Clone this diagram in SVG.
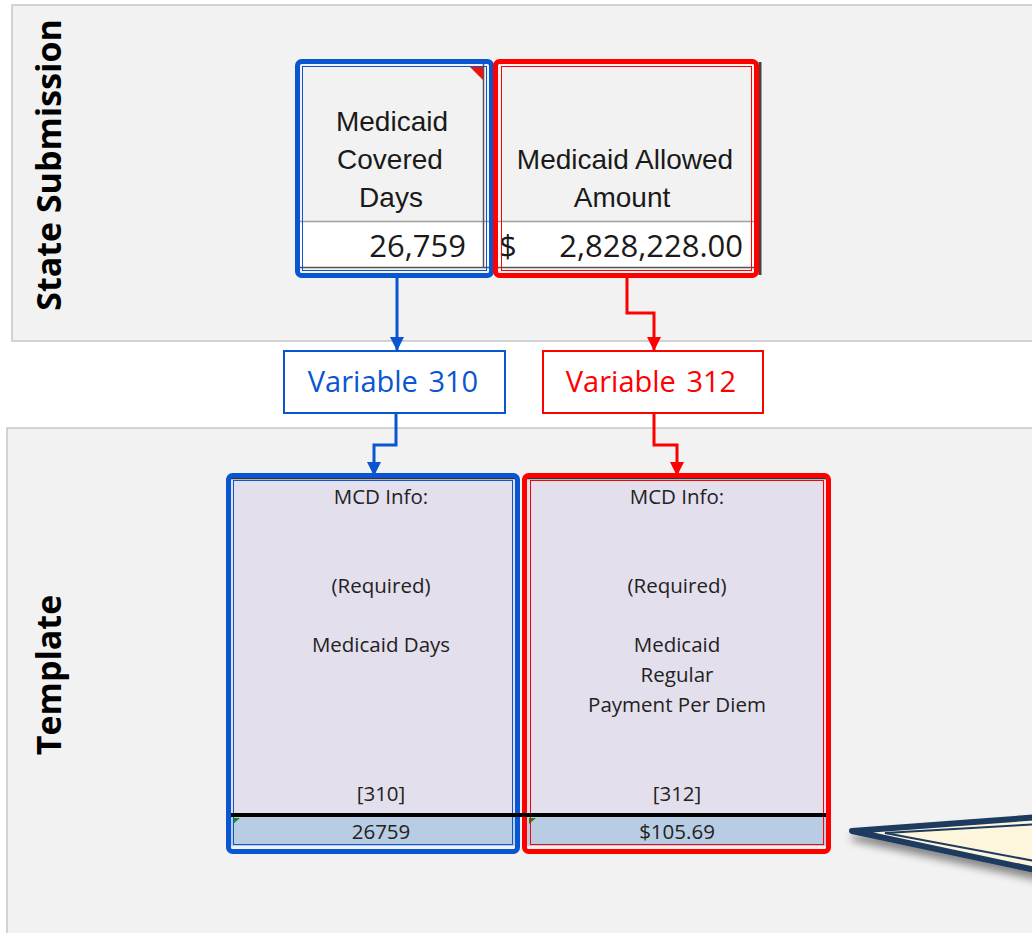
<svg xmlns="http://www.w3.org/2000/svg" width="1032" height="933" viewBox="0 0 1032 933">
  <style>
    .panel { fill: #f2f2f2; stroke: #c6c6c6; stroke-width: 1.5; }
    .side { font-family: "Open Sans", "Liberation Sans", sans-serif; font-weight: bold; font-size: 34px; fill: #000; }
    .hdr { font-family: "Liberation Sans", Arial, sans-serif; font-size: 28px; fill: #1a1a1a; text-anchor: middle; }
    .num { font-family: "Open Sans", "Liberation Sans", sans-serif; font-size: 31px; fill: #1a1a1a; }
    .cell { font-family: "Open Sans", "Liberation Sans", sans-serif; font-size: 20.5px; fill: #222; text-anchor: middle; }
    .var { font-family: "Open Sans", "Liberation Sans", sans-serif; font-size: 29px; text-anchor: middle; word-spacing: 3px; }
    .blue { stroke: #0a55d0; }
    .red { stroke: #ff0000; }
    .frame { fill: none; stroke-width: 5; }
    .thin { fill: none; stroke-width: 1; }
    .link { fill: none; stroke-width: 3; }
  </style>
  <defs>
    <marker id="arrBlue" markerUnits="userSpaceOnUse" markerWidth="14" markerHeight="14" viewBox="0 0 14 14" refX="14" refY="7" orient="auto">
      <path d="M0,0 L14,7 L0,14 Z" fill="#0a55d0"/>
    </marker>
    <marker id="arrRed" markerUnits="userSpaceOnUse" markerWidth="14" markerHeight="14" viewBox="0 0 14 14" refX="14" refY="7" orient="auto">
      <path d="M0,0 L14,7 L0,14 Z" fill="#ff0000"/>
    </marker>
    <filter id="shadow" x="-20%" y="-50%" width="140%" height="200%">
      <feGaussianBlur in="SourceAlpha" stdDeviation="4"/>
      <feOffset dx="2" dy="7" result="b"/>
      <feComponentTransfer><feFuncA type="linear" slope="0.45"/></feComponentTransfer>
      <feMerge><feMergeNode/><feMergeNode in="SourceGraphic"/></feMerge>
    </filter>
  </defs>

  <!-- background bands -->
  <rect width="1032" height="933" fill="#ffffff"/>
  <g id="band-state">
    <rect class="panel" x="12" y="5" width="1040" height="336"/>
    <text class="side" transform="translate(61,165) rotate(-90)" text-anchor="middle">State Submission</text>
  </g>
  <g id="band-template">
    <rect class="panel" x="7" y="428" width="1045" height="520"/>
    <text class="side" transform="translate(61,675) rotate(-90)" text-anchor="middle">Template</text>
  </g>

  <!-- state submission cells -->
  <g id="cell-covered-days">
    <rect x="300" y="64" width="189" height="158" fill="#f2f2f2"/>
    <rect x="300" y="222" width="189" height="46" fill="#ffffff"/>
    <line x1="300" y1="221.5" x2="489" y2="221.5" stroke="#a0a0a0" stroke-width="1.5"/>
    <line x1="483.5" y1="64" x2="483.5" y2="268" stroke="#555" stroke-width="1.5"/>
    <line x1="300" y1="267.5" x2="489" y2="267.5" stroke="#555" stroke-width="1.5"/>
    <path d="M469,66 H483 V80 Z" fill="#ee1111"/>
    <text class="hdr" x="392" y="131">Medicaid</text>
    <text class="hdr" x="390" y="169">Covered</text>
    <text class="hdr" x="391" y="207">Days</text>
    <text class="num" x="466" y="257" text-anchor="end">26,759</text>
    <rect class="thin blue" x="302.5" y="66.5" width="184" height="204" stroke="#3a7ae0"/>
    <rect class="frame blue" x="297.5" y="61.5" width="194" height="214" rx="4"/>
  </g>

  <g id="cell-allowed-amount">
    <rect x="498" y="64" width="258" height="158" fill="#f2f2f2"/>
    <rect x="498" y="222" width="258" height="46" fill="#ffffff"/>
    <line x1="498" y1="221.5" x2="756" y2="221.5" stroke="#a0a0a0" stroke-width="1.5"/>
    <line x1="760" y1="62" x2="760" y2="275" stroke="#444" stroke-width="3"/>
    <line x1="498" y1="267.5" x2="756" y2="267.5" stroke="#555" stroke-width="1.5"/>
    <text class="hdr" x="625" y="169">Medicaid Allowed</text>
    <text class="hdr" x="622" y="207">Amount</text>
    <text class="num" x="499" y="257">$</text>
    <text class="num" x="743" y="257" text-anchor="end">2,828,228.00</text>
    <rect class="thin red" x="501.5" y="66.5" width="250" height="204" stroke="#ff5050"/>
    <rect class="frame red" x="495.5" y="61.5" width="261" height="214" rx="4"/>
  </g>

  <!-- variable labels -->
  <g id="var-310">
    <rect x="284" y="351" width="221" height="62" fill="#ffffff" stroke="#0a55d0" stroke-width="2"/>
    <text class="var" x="393" y="392" fill="#0a55d0">Variable 310</text>
  </g>
  <g id="var-312">
    <rect x="543" y="351" width="220" height="62" fill="#ffffff" stroke="#ff0000" stroke-width="2"/>
    <text class="var" x="651" y="392" fill="#ff0000">Variable 312</text>
  </g>

  <!-- template cells -->
  <g id="tpl-310">
    <rect x="231" y="478" width="284" height="338" fill="#e4dfec"/>
    <rect x="231" y="817" width="284" height="29" fill="#b8cce4"/>
    <line x1="231" y1="478.5" x2="515" y2="478.5" stroke="#333" stroke-width="1.5"/>
    <path d="M233,818 L240,818 L233,824 Z" fill="#1a8a1a"/>
    <text class="cell" x="381" y="504">MCD Info:</text>
    <text class="cell" x="381" y="593">(Required)</text>
    <text class="cell" x="381" y="652">Medicaid Days</text>
    <text class="cell" x="381" y="801">[310]</text>
    <text class="cell" x="381" y="839">26759</text>
    <rect class="thin blue" x="233.5" y="480.5" width="279" height="364" stroke="#3a7ae0"/>
    <rect class="frame blue" x="228.5" y="475.5" width="289" height="376" rx="4"/>
  </g>

  <g id="tpl-312">
    <rect x="527" y="478" width="299" height="338" fill="#e4dfec"/>
    <rect x="527" y="817" width="299" height="29" fill="#b8cce4"/>
    <line x1="527" y1="478.5" x2="826" y2="478.5" stroke="#333" stroke-width="1.5"/>
    <path d="M529,818 L536,818 L529,824 Z" fill="#1a8a1a"/>
    <text class="cell" x="677" y="504">MCD Info:</text>
    <text class="cell" x="677" y="593">(Required)</text>
    <text class="cell" x="677" y="652">Medicaid</text>
    <text class="cell" x="677" y="682">Regular</text>
    <text class="cell" x="677" y="712">Payment Per Diem</text>
    <text class="cell" x="677" y="801">[312]</text>
    <text class="cell" x="677" y="839">$105.69</text>
    <rect class="thin red" x="530.5" y="480.5" width="293" height="364" stroke="#ff5050"/>
    <rect class="frame red" x="524.5" y="475.5" width="304" height="376" rx="4"/>
  </g>

  <!-- heavy rule between labels and totals -->
  <line x1="231" y1="815" x2="826" y2="815" stroke="#000" stroke-width="4"/>

  <!-- connectors -->
  <g id="connectors">
    <path class="link blue" d="M397,277 V351" marker-end="url(#arrBlue)"/>
    <path class="link red" d="M627,277 V313 H654 V351" marker-end="url(#arrRed)"/>
    <path class="link blue" d="M396,413 V445 H374 V476" marker-end="url(#arrBlue)"/>
    <path class="link red" d="M654,413 V445 H677 V476" marker-end="url(#arrRed)"/>
  </g>

  <!-- callout pointer -->
  <g id="callout" filter="url(#shadow)">
    <path d="M1040,817 L852,831 L1040,871" fill="#fdf5dc" stroke="#1e3a5f" stroke-width="6" stroke-linejoin="round" stroke-linecap="round"/>
    <path d="M1040,824 L885,833 L1040,862" fill="none" stroke="#1e3a5f" stroke-width="2"/>
  </g>
</svg>
